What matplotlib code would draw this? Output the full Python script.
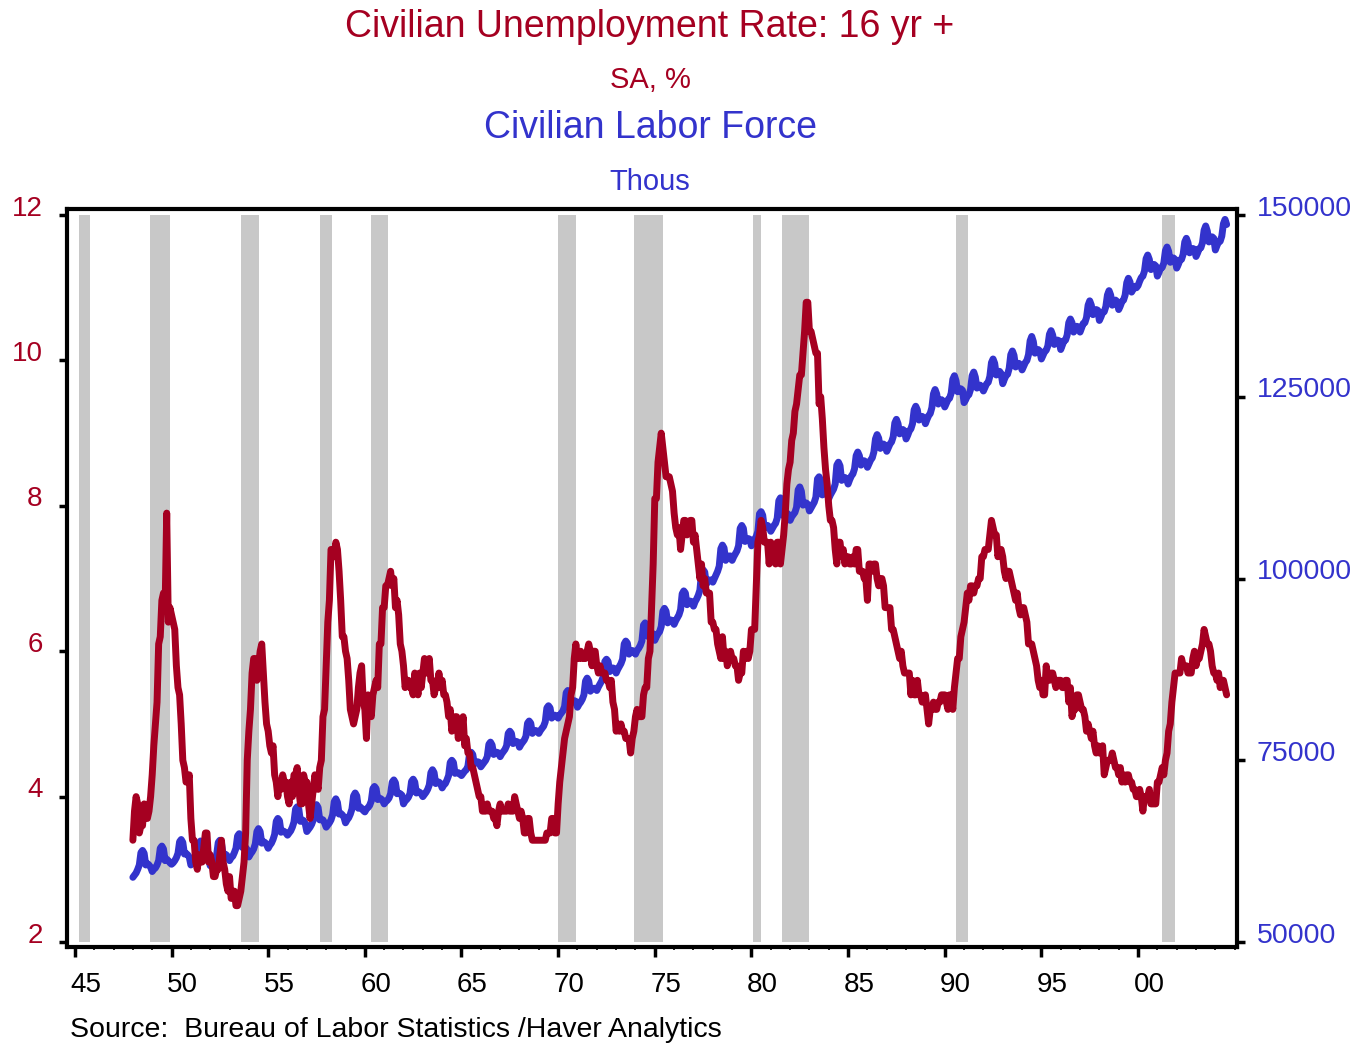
import matplotlib.pyplot as plt
import matplotlib.transforms as mtrans
import numpy as np

plt.rcParams['font.family'] = ['Liberation Sans', 'DejaVu Sans']

RED = '#a50021'
BLUE = '#3333cc'
SHADE = '#c8c8c8'

# monthly data, Jan 1948 .. Aug 2004
start_year = 1948

# civilian unemployment rate 16+, SA, %
unrate = [
    3.4, 3.8, 4.0, 3.9, 3.5, 3.6, 3.6, 3.9, 3.8, 3.7, 3.8, 4.0,   # 1948
    4.3, 4.7, 5.0, 5.3, 6.1, 6.2, 6.7, 6.8, 6.6, 7.9, 6.4, 6.6,   # 1949
    6.5, 6.4, 6.3, 5.8, 5.5, 5.4, 5.0, 4.5, 4.4, 4.2, 4.2, 4.3,   # 1950
    3.7, 3.4, 3.4, 3.1, 3.0, 3.2, 3.1, 3.1, 3.3, 3.5, 3.5, 3.1,   # 1951
    3.2, 3.1, 2.9, 2.9, 3.0, 3.0, 3.2, 3.4, 3.1, 3.0, 2.8, 2.7,   # 1952
    2.9, 2.6, 2.6, 2.7, 2.5, 2.5, 2.6, 2.7, 2.9, 3.1, 3.5, 4.5,   # 1953
    4.9, 5.2, 5.7, 5.9, 5.9, 5.6, 5.8, 6.0, 6.1, 5.7, 5.3, 5.0,   # 1954
    4.9, 4.7, 4.6, 4.7, 4.3, 4.2, 4.0, 4.2, 4.1, 4.3, 4.2, 4.2,   # 1955
    4.0, 3.9, 4.2, 4.0, 4.3, 4.3, 4.4, 4.1, 3.9, 3.9, 4.3, 4.2,   # 1956
    4.2, 3.9, 3.7, 3.9, 4.1, 4.3, 4.2, 4.1, 4.4, 4.5, 5.1, 5.2,   # 1957
    5.8, 6.4, 6.7, 7.4, 7.4, 7.3, 7.5, 7.4, 7.1, 6.7, 6.2, 6.2,   # 1958
    6.0, 5.9, 5.6, 5.2, 5.1, 5.0, 5.1, 5.2, 5.5, 5.7, 5.8, 5.3,   # 1959
    5.2, 4.8, 5.4, 5.2, 5.1, 5.4, 5.5, 5.6, 5.5, 6.1, 6.1, 6.6,   # 1960
    6.6, 6.9, 6.9, 7.0, 7.1, 6.9, 7.0, 6.6, 6.7, 6.5, 6.1, 6.0,   # 1961
    5.8, 5.5, 5.6, 5.6, 5.5, 5.5, 5.4, 5.7, 5.6, 5.4, 5.7, 5.5,   # 1962
    5.7, 5.9, 5.7, 5.7, 5.9, 5.6, 5.6, 5.4, 5.5, 5.5, 5.7, 5.5,   # 1963
    5.6, 5.4, 5.4, 5.3, 5.1, 5.2, 4.9, 5.0, 5.1, 5.1, 4.8, 5.0,   # 1964
    4.9, 5.1, 4.7, 4.8, 4.6, 4.6, 4.4, 4.4, 4.3, 4.2, 4.1, 4.0,   # 1965
    4.0, 3.8, 3.8, 3.8, 3.9, 3.8, 3.8, 3.8, 3.7, 3.7, 3.6, 3.8,   # 1966
    3.9, 3.8, 3.8, 3.8, 3.8, 3.9, 3.8, 3.8, 3.8, 4.0, 3.9, 3.8,   # 1967
    3.7, 3.8, 3.7, 3.5, 3.5, 3.7, 3.7, 3.5, 3.4, 3.4, 3.4, 3.4,   # 1968
    3.4, 3.4, 3.4, 3.4, 3.4, 3.5, 3.5, 3.5, 3.7, 3.7, 3.5, 3.5,   # 1969
    3.9, 4.2, 4.4, 4.6, 4.8, 4.9, 5.0, 5.1, 5.4, 5.5, 5.9, 6.1,   # 1970
    5.9, 5.9, 6.0, 5.9, 5.9, 5.9, 6.0, 6.1, 6.0, 5.8, 6.0, 6.0,   # 1971
    5.8, 5.7, 5.8, 5.7, 5.7, 5.7, 5.6, 5.6, 5.5, 5.6, 5.3, 5.2,   # 1972
    4.9, 5.0, 4.9, 5.0, 4.9, 4.9, 4.8, 4.8, 4.8, 4.6, 4.8, 4.9,   # 1973
    5.1, 5.2, 5.1, 5.1, 5.1, 5.4, 5.5, 5.5, 5.9, 6.0, 6.6, 7.2,   # 1974
    8.1, 8.1, 8.6, 8.8, 9.0, 8.8, 8.6, 8.4, 8.4, 8.4, 8.3, 8.2,   # 1975
    7.9, 7.7, 7.6, 7.7, 7.4, 7.6, 7.8, 7.8, 7.6, 7.7, 7.8, 7.8,   # 1976
    7.5, 7.6, 7.4, 7.2, 7.0, 7.2, 6.9, 7.0, 6.8, 6.8, 6.8, 6.4,   # 1977
    6.4, 6.3, 6.3, 6.1, 6.0, 5.9, 6.2, 5.9, 6.0, 5.8, 5.9, 6.0,   # 1978
    5.9, 5.9, 5.8, 5.8, 5.6, 5.7, 5.7, 6.0, 5.9, 6.0, 5.9, 6.0,   # 1979
    6.3, 6.3, 6.3, 6.9, 7.5, 7.6, 7.8, 7.7, 7.5, 7.5, 7.5, 7.2,   # 1980
    7.5, 7.4, 7.4, 7.2, 7.5, 7.5, 7.2, 7.4, 7.6, 7.9, 8.3, 8.5,   # 1981
    8.6, 8.9, 9.0, 9.3, 9.4, 9.6, 9.8, 9.8, 10.1, 10.4, 10.8, 10.8,  # 1982
    10.4, 10.4, 10.3, 10.2, 10.1, 10.1, 9.4, 9.5, 9.2, 8.8, 8.5, 8.3,  # 1983
    8.0, 7.8, 7.8, 7.7, 7.4, 7.2, 7.5, 7.5, 7.3, 7.4, 7.2, 7.3,   # 1984
    7.3, 7.2, 7.2, 7.3, 7.2, 7.4, 7.4, 7.1, 7.1, 7.1, 7.0, 7.0,   # 1985
    6.7, 7.2, 7.2, 7.1, 7.2, 7.2, 7.0, 6.9, 7.0, 7.0, 6.9, 6.6,   # 1986
    6.6, 6.6, 6.6, 6.3, 6.3, 6.2, 6.1, 6.0, 5.9, 6.0, 5.8, 5.7,   # 1987
    5.7, 5.7, 5.7, 5.4, 5.6, 5.4, 5.4, 5.6, 5.4, 5.4, 5.3, 5.3,   # 1988
    5.4, 5.2, 5.0, 5.2, 5.2, 5.3, 5.2, 5.2, 5.3, 5.3, 5.4, 5.4,   # 1989
    5.4, 5.3, 5.2, 5.4, 5.4, 5.2, 5.5, 5.7, 5.9, 5.9, 6.2, 6.3,   # 1990
    6.4, 6.6, 6.8, 6.7, 6.9, 6.9, 6.8, 6.9, 6.9, 7.0, 7.0, 7.3,   # 1991
    7.3, 7.4, 7.4, 7.4, 7.6, 7.8, 7.7, 7.6, 7.6, 7.3, 7.4, 7.4,   # 1992
    7.3, 7.1, 7.0, 7.1, 7.1, 7.0, 6.9, 6.8, 6.7, 6.8, 6.6, 6.5,   # 1993
    6.6, 6.6, 6.5, 6.4, 6.1, 6.1, 6.1, 6.0, 5.9, 5.8, 5.6, 5.5,   # 1994
    5.6, 5.4, 5.4, 5.8, 5.6, 5.6, 5.7, 5.7, 5.6, 5.5, 5.6, 5.6,   # 1995
    5.6, 5.5, 5.5, 5.6, 5.6, 5.3, 5.5, 5.1, 5.2, 5.2, 5.4, 5.4,   # 1996
    5.3, 5.2, 5.2, 5.1, 4.9, 5.0, 4.9, 4.8, 4.9, 4.7, 4.6, 4.7,   # 1997
    4.6, 4.6, 4.7, 4.3, 4.4, 4.5, 4.5, 4.5, 4.6, 4.5, 4.4, 4.4,   # 1998
    4.3, 4.4, 4.2, 4.3, 4.2, 4.3, 4.3, 4.2, 4.2, 4.1, 4.1, 4.0,   # 1999
    4.0, 4.1, 4.0, 3.8, 4.0, 4.0, 4.0, 4.1, 3.9, 3.9, 3.9, 3.9,   # 2000
    4.2, 4.2, 4.3, 4.4, 4.3, 4.5, 4.6, 4.9, 5.0, 5.3, 5.5, 5.7,   # 2001
    5.7, 5.7, 5.7, 5.9, 5.8, 5.8, 5.8, 5.7, 5.7, 5.7, 5.9, 6.0,   # 2002
    5.8, 5.9, 5.9, 6.0, 6.1, 6.3, 6.2, 6.1, 6.1, 6.0, 5.8, 5.7,   # 2003
    5.7, 5.6, 5.7, 5.5, 5.6, 5.6, 5.5, 5.4,                       # 2004
]

# civilian labor force, thousands (not seasonally adjusted)
labor_force = [
    58900, 59200, 59500, 60000, 60600, 62300, 62600, 62200, 60600, 60800, 60600, 60300,  # 1948
    59700, 60000, 60200, 60600, 61200, 62900, 63200, 62800, 61200, 61400, 61200, 60900,  # 1949
    60700, 60900, 61200, 61600, 62200, 63800, 64100, 63700, 62100, 62200, 62000, 61700,  # 1950
    60600, 60900, 61100, 61400, 62000, 63600, 63900, 63400, 61800, 61900, 61700, 61300,  # 1951
    60500, 60800, 61000, 61400, 62000, 63700, 64000, 63600, 62000, 62100, 62000, 61700,  # 1952
    61200, 61600, 61800, 62300, 62900, 64600, 64900, 64600, 63000, 63100, 63000, 62700,  # 1953
    61700, 62100, 62400, 62800, 63500, 65200, 65600, 65200, 63600, 63800, 63700, 63400,  # 1954
    62900, 63300, 63600, 64100, 64800, 66600, 67000, 66700, 65100, 65300, 65200, 65000,  # 1955
    64700, 65000, 65300, 65800, 66500, 68300, 68600, 68300, 66600, 66800, 66700, 66300,  # 1956
    65200, 65500, 65800, 66200, 66800, 68600, 68900, 68500, 66800, 66900, 66800, 66400,  # 1957
    65800, 66100, 66400, 66800, 67500, 69300, 69700, 69200, 67600, 67700, 67500, 67200,  # 1958
    66400, 66800, 67100, 67600, 68300, 70100, 70500, 70100, 68400, 68600, 68400, 68100,  # 1959
    67900, 68300, 68500, 68800, 69400, 71100, 71400, 71100, 69600, 69800, 69700, 69500,  # 1960
    69000, 69300, 69500, 69800, 70400, 72000, 72300, 71900, 70400, 70500, 70400, 70200,  # 1961
    69000, 69400, 69600, 69900, 70400, 72100, 72400, 72000, 70500, 70700, 70600, 70400,  # 1962
    70000, 70300, 70600, 71000, 71600, 73300, 73700, 73300, 71800, 72000, 72000, 71800,  # 1963
    71200, 71600, 71800, 72300, 72900, 74700, 75000, 74700, 73200, 73300, 73300, 73100,  # 1964
    72900, 73200, 73500, 73700, 74200, 75900, 76100, 75800, 74500, 74700, 74800, 74700,  # 1965
    74100, 74400, 74700, 75000, 75500, 77200, 77500, 77100, 75800, 76100, 76100, 76000,  # 1966
    75500, 75900, 76200, 76500, 77000, 78700, 79000, 78700, 77300, 77600, 77600, 77500,  # 1967
    76800, 77200, 77500, 77800, 78300, 80100, 80400, 80100, 78700, 79000, 79100, 79000,  # 1968
    78700, 79100, 79400, 79700, 80300, 82200, 82500, 82200, 80800, 81100, 81200, 81100,  # 1969
    80800, 81200, 81500, 81800, 82400, 84300, 84600, 84300, 82900, 83200, 83200, 83100,  # 1970
    82300, 82700, 83000, 83400, 84000, 85900, 86300, 85900, 84500, 84800, 84900, 84900,  # 1971
    84600, 85100, 85500, 85900, 86500, 88600, 88900, 88600, 87200, 87600, 87700, 87600,  # 1972
    87000, 87500, 87900, 88300, 88900, 91000, 91400, 91100, 89600, 90000, 90100, 90000,  # 1973
    89600, 90100, 90400, 90800, 91400, 93600, 93900, 93600, 92000, 92400, 92500, 92400,  # 1974
    91500, 92000, 92400, 92700, 93400, 95500, 95900, 95500, 93900, 94200, 94300, 94200,  # 1975
    93700, 94200, 94600, 95000, 95700, 97900, 98300, 98000, 96400, 96800, 96900, 96800,  # 1976
    96200, 96800, 97200, 97700, 98400, 100800, 101200, 100900, 99200, 99700, 99800, 99800,  # 1977
    99500, 100000, 100500, 101000, 101700, 104100, 104600, 104200, 102500, 103000, 103100, 103100,  # 1978
    102500, 103000, 103400, 103800, 104500, 106900, 107300, 106900, 105100, 105500, 105500, 105400,  # 1979
    104500, 105000, 105400, 105800, 106500, 108900, 109200, 108700, 106900, 107200, 107300, 107100,  # 1980
    106500, 106900, 107300, 107600, 108300, 110700, 111100, 110500, 108600, 109000, 109000, 108800,  # 1981
    108000, 108500, 108800, 109100, 109800, 112200, 112600, 112000, 110100, 110400, 110400, 110200,  # 1982
    109300, 109700, 110100, 110500, 111200, 113700, 114000, 113500, 111500, 111900, 111900, 111700,  # 1983
    111000, 111500, 111900, 112300, 113000, 115600, 116000, 115500, 113500, 113900, 113900, 113700,  # 1984
    113000, 113600, 114100, 114400, 115100, 116900, 117400, 116900, 115600, 116000, 116200, 116000,  # 1985
    115300, 115800, 116300, 116600, 117400, 119200, 119800, 119300, 117900, 118300, 118500, 118300,  # 1986
    117500, 118000, 118500, 118800, 119500, 121400, 121900, 121300, 119900, 120300, 120500, 120300,  # 1987
    119200, 119700, 120300, 120600, 121300, 123200, 123700, 123200, 121800, 122200, 122300, 122100,  # 1988
    121300, 121900, 122400, 122700, 123500, 125400, 126000, 125400, 124000, 124400, 124600, 124400,  # 1989
    123600, 124100, 124600, 124800, 125500, 127400, 127900, 127200, 125700, 126000, 126100, 125900,  # 1990
    124200, 124600, 125100, 125300, 126000, 127900, 128400, 127700, 126200, 126500, 126600, 126300,  # 1991
    125800, 126300, 126800, 127000, 127800, 129700, 130200, 129600, 128000, 128400, 128500, 128200,  # 1992
    126800, 127400, 127900, 128100, 128900, 130800, 131300, 130700, 129100, 129500, 129600, 129400,  # 1993
    128700, 129200, 129700, 130000, 130800, 132700, 133300, 132600, 131000, 131400, 131500, 131300,  # 1994
    130200, 130700, 131200, 131400, 132000, 133600, 134100, 133500, 132200, 132600, 132800, 132700,  # 1995
    131500, 132100, 132700, 132800, 133500, 135200, 135700, 135200, 133900, 134400, 134700, 134600,  # 1996
    133900, 134500, 135100, 135200, 135900, 137600, 138200, 137600, 136300, 136700, 137000, 136900,  # 1997
    135500, 136000, 136600, 136700, 137400, 139000, 139600, 139000, 137600, 138000, 138300, 138100,  # 1998
    137000, 137500, 138100, 138300, 139000, 140700, 141300, 140800, 139400, 139800, 140200, 140000,  # 1999
    140300, 140900, 141400, 141600, 142300, 144000, 144500, 143900, 142500, 142900, 143200, 143000,  # 2000
    141600, 142100, 142700, 142800, 143400, 145100, 145600, 145000, 143500, 143900, 144100, 143900,  # 2001
    142700, 143200, 143800, 143900, 144600, 146300, 146800, 146200, 144800, 145200, 145400, 145300,  # 2002
    144300, 144800, 145400, 145500, 146200, 147900, 148500, 147800, 146300, 146700, 147000, 146800,  # 2003
    145200, 145800, 146300, 146400, 147100, 148800, 149400, 148700,                              # 2004
]

# recession shading (decimal years)
rec_start = [1945.2, 1948.9, 1953.6, 1957.7, 1960.3, 1970.0, 1973.9, 1980.1, 1981.6, 1990.6, 2001.25]
rec_end = [1945.8, 1949.9, 1954.5, 1958.3, 1961.2, 1970.9, 1975.4, 1980.5, 1982.97, 1991.2, 2001.9]

ur_ticks = [2, 4, 6, 8, 10, 12]
lf_ticks = [50000, 75000, 100000, 125000, 150000]
x_ticks = [1945, 1950, 1955, 1960, 1965, 1970, 1975, 1980, 1985, 1990, 1995, 2000]
x_labels = ['45', '50', '55', '60', '65', '70', '75', '80', '85', '90', '95', '00']

t = start_year + np.arange(len(unrate)) / 12.0

fig = plt.figure(figsize=(13.61, 10.43), dpi=100)
ax = fig.add_axes([0.0492, 0.0920, 0.8597, 0.7076])   # unemployment (left)
ax2 = ax.twinx()                                     # labor force (right)
ax.set_zorder(ax2.get_zorder() + 1)
ax.patch.set_visible(False)

# shading and labor force on the lower axes
for s, e in zip(rec_start, rec_end):
    ax2.fill_between([s, e], 50000, 150000, color=SHADE, lw=0, zorder=0)
ax2.plot(t, labor_force, color=BLUE, lw=5, solid_capstyle='round',
         solid_joinstyle='round', zorder=2)

ax.plot(t, unrate, color=RED, lw=5, solid_capstyle='round',
        solid_joinstyle='round', zorder=3)

ax.set_xlim(1944.59, 2005.12)
ax.set_ylim(1.931, 12.083)
ax2.set_ylim(49310, 150830)

ax.set_xticks(x_ticks)
ax.set_xticklabels(x_labels)
ax.set_xticks(np.arange(1945, 2006), minor=True)
ax.set_yticks(ur_ticks)
ax2.set_yticks(lf_ticks)

ax.tick_params(axis='y', direction='out', length=6, width=2.5,
               labelcolor=RED, labelsize=20, pad=11.5)
ax2.tick_params(axis='y', direction='out', length=6, width=2.5,
                labelcolor=BLUE, labelsize=20.5, pad=8)
ax.tick_params(axis='x', which='major', direction='out', length=7, width=2.5,
               labelsize=20, pad=11)
ax.tick_params(axis='x', which='minor', direction='out', length=2.5, width=1.2)
ax2.tick_params(axis='x', which='both', length=0)

# labels sit a little above / right of their ticks in the original
up = mtrans.ScaledTranslation(0, 9.5 / 100, fig.dpi_scale_trans)
right = mtrans.ScaledTranslation(11 / 100, 0, fig.dpi_scale_trans)
for lab in ax.get_yticklabels() + ax2.get_yticklabels():
    lab.set_transform(lab.get_transform() + up)
for lab in ax.get_xticklabels():
    lab.set_transform(lab.get_transform() + right)

for sp in ax.spines.values():
    sp.set_linewidth(3)
for sp in ax2.spines.values():
    sp.set_visible(False)

cx = 650 / 1361
fig.text(cx, 1 - 27 / 1043, 'Civilian Unemployment Rate: 16 yr +', color=RED,
         fontsize=27, ha='center', va='center')
fig.text(cx, 1 - 80 / 1043, 'SA, %', color=RED, fontsize=21, ha='center', va='center')
fig.text(cx, 1 - 128 / 1043, 'Civilian Labor Force', color=BLUE,
         fontsize=27, ha='center', va='center')
fig.text(cx, 1 - 182 / 1043, 'Thous', color=BLUE, fontsize=21, ha='center', va='center')

fig.text(70 / 1361, 1 - 1030 / 1043, 'Source:  Bureau of Labor Statistics /Haver Analytics',
         fontsize=20.5, ha='left', va='center')

fig.savefig('out.png', dpi=100)
